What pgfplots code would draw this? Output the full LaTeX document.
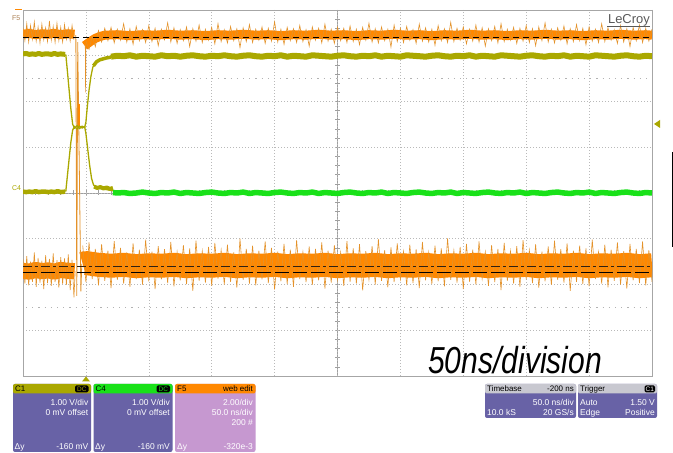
\documentclass[border=0pt]{standalone}
\usepackage{pgfplots}
\usepackage{pgfplotstable}
\pgfplotsset{compat=1.18}
\usepackage{fontspec}
\setmainfont{Liberation Sans}
\usepackage{graphicx}
\definecolor{olv}{RGB}{170,168,0}
\definecolor{grn}{RGB}{25,225,25}
\definecolor{org}{RGB}{255,136,0}
\definecolor{orgd}{RGB}{228,146,42}
\definecolor{pnl}{RGB}{104,98,166}
\definecolor{pnlF}{RGB}{198,152,208}
\definecolor{hdr}{RGB}{200,200,208}

\pgfplotstableread{
x y
1.00 7.32
1.05 7.14
1.10 7.42
1.15 7.20
1.20 7.55
1.25 7.30
1.30 7.60
1.35 7.33
1.40 7.62
1.45 7.28
1.50 7.58
1.55 7.34
1.60 7.70
1.65 7.30
1.70 7.59
1.75 7.25
1.80 7.64
1.85 7.33
1.90 7.57
1.95 7.29
2.00 7.66
2.05 7.31
2.10 7.60
2.15 7.22
2.20 7.58
2.25 7.35
2.30 7.72
2.35 7.30
2.40 7.61
2.45 7.27
2.50 7.57
2.55 7.33
2.60 7.63
2.65 7.20
2.70 7.59
2.75 7.32
2.80 7.67
2.85 7.29
2.90 7.58
2.95 7.34
3.00 7.62
3.05 7.26
3.10 7.70
3.15 7.31
3.20 7.57
3.25 7.28
3.30 7.64
3.35 7.33
3.40 7.59
3.45 7.18
3.50 7.61
3.55 7.31
3.60 7.68
3.65 7.29
3.70 7.58
3.75 7.34
3.80 7.63
3.85 7.27
3.90 7.60
3.95 7.32
4.00 7.74
4.05 7.30
4.10 7.58
4.15 7.25
4.20 7.62
4.25 7.33
4.30 7.59
4.35 7.29
4.40 7.66
4.45 7.31
4.50 7.57
4.55 7.21
4.60 7.63
4.65 7.34
4.70 7.60
4.75 7.28
4.80 7.69
4.85 7.32
4.90 7.58
4.95 7.27
5.00 7.62
5.05 7.33
5.10 7.60
5.15 7.29
5.20 7.65
5.25 7.31
5.30 7.58
5.35 7.24
5.40 7.62
5.45 7.34
5.50 7.71
5.55 7.30
5.60 7.59
5.65 7.28
5.70 7.63
5.75 7.33
5.80 7.58
5.85 7.19
5.90 7.67
5.95 7.31
6.00 7.60
6.05 7.29
6.10 7.64
6.15 7.34
6.20 7.57
6.25 7.27
6.30 7.69
6.35 7.32
6.40 7.61
6.45 7.30
6.50 7.58
6.55 7.23
6.60 7.66
6.65 7.33
6.70 7.59
6.75 7.29
6.80 7.73
6.85 7.31
6.90 7.60
6.95 7.34
7.00 7.63
7.05 7.26
7.10 7.58
7.15 7.32
7.20 7.67
7.25 7.30
7.30 7.61
7.35 7.21
7.40 7.59
7.45 7.33
7.50 7.64
7.55 7.28
7.60 7.70
7.65 7.31
7.70 7.58
7.75 7.34
7.80 7.62
7.85 7.27
7.90 7.60
7.95 7.32
8.00 7.66
8.05 7.29
8.10 7.59
8.15 7.22
8.20 7.63
8.25 7.33
8.30 7.72
8.35 7.30
8.40 7.58
8.45 7.28
8.50 7.61
8.55 7.34
8.60 7.65
8.65 7.26
8.70 7.59
8.75 7.31
8.80 7.68
8.85 7.33
8.90 7.60
8.95 7.24
9.00 7.63
9.05 7.32
9.10 7.58
9.15 7.29
9.20 7.70
9.25 7.31
9.30 7.61
9.35 7.34
9.40 7.57
9.45 7.27
9.50 7.66
9.55 7.30
9.60 7.59
9.65 7.20
9.70 7.62
9.75 7.33
9.80 7.67
9.85 7.29
9.90 7.60
9.95 7.32
10.00 7.58
}\orgTopSpk

\pgfplotstableread{
x y
0.95 2.85
1.00 2.05
1.05 2.92
1.10 2.12
1.15 2.78
1.20 1.98
1.25 2.88
1.30 2.08
1.35 2.74
1.40 1.92
1.45 2.95
1.50 2.10
1.55 2.80
1.60 2.02
1.65 2.70
1.70 1.95
1.75 2.90
1.80 2.12
1.85 2.76
1.90 2.00
1.95 2.98
2.00 2.07
2.05 2.72
2.10 1.90
2.15 2.84
2.20 2.11
2.25 2.77
2.30 2.03
2.35 2.93
2.40 1.96
2.45 2.71
2.50 2.09
2.55 2.86
2.60 2.01
2.65 2.79
2.70 1.86
2.75 2.96
2.80 2.08
2.85 2.73
2.90 2.04
2.95 2.82
3.00 1.97
3.05 2.91
3.10 2.13
3.15 2.75
3.20 2.00
3.25 2.87
3.30 2.06
3.35 2.70
3.40 1.93
3.45 3.00
3.50 2.10
3.55 2.78
3.60 2.02
3.65 2.85
3.70 1.98
3.75 2.74
3.80 2.11
3.85 2.94
3.90 2.03
3.95 2.80
4.00 1.89
4.05 2.72
4.10 2.07
4.15 2.89
4.20 2.01
4.25 2.76
4.30 1.95
4.35 2.97
4.40 2.12
4.45 2.71
4.50 2.05
4.55 2.83
4.60 1.99
4.65 2.78
4.70 2.09
4.75 2.92
4.80 1.91
4.85 2.74
4.90 2.04
4.95 2.86
5.00 2.10
5.05 2.70
5.10 1.97
5.15 2.95
5.20 2.06
5.25 2.79
5.30 2.02
5.35 2.88
5.40 1.87
5.45 2.73
5.50 2.11
5.55 2.84
5.60 2.00
5.65 2.99
5.70 2.08
5.75 2.75
5.80 1.94
5.85 2.81
5.90 2.05
5.95 2.90
6.00 2.12
6.05 2.72
6.10 1.98
6.15 2.87
6.20 2.03
6.25 2.77
6.30 1.92
6.35 2.93
6.40 2.09
6.45 2.70
6.50 2.01
6.55 2.85
6.60 2.07
6.65 2.79
6.70 1.96
6.75 3.01
6.80 2.10
6.85 2.74
6.90 2.04
6.95 2.82
7.00 1.90
7.05 2.89
7.10 2.06
7.15 2.76
7.20 2.00
7.25 2.94
7.30 2.13
7.35 2.71
7.40 1.97
7.45 2.86
7.50 2.05
7.55 2.78
7.60 1.88
7.65 2.91
7.70 2.08
7.75 2.73
7.80 2.02
7.85 2.84
7.90 1.95
7.95 2.97
8.00 2.11
8.05 2.75
8.10 2.03
8.15 2.88
8.20 1.93
8.25 2.72
8.30 2.07
8.35 2.83
8.40 1.99
8.45 2.96
8.50 2.10
8.55 2.77
8.60 2.04
8.65 2.90
8.70 1.86
8.75 2.74
8.80 2.06
8.85 2.85
8.90 2.01
8.95 2.79
9.00 1.96
9.05 2.98
9.10 2.12
9.15 2.71
9.20 2.02
9.25 2.87
9.30 1.94
9.35 2.76
9.40 2.08
9.45 2.92
9.50 2.00
9.55 2.73
9.60 1.91
9.65 2.89
9.70 2.09
9.75 2.78
9.80 2.03
9.85 2.94
9.90 1.98
9.95 2.75
10.00 2.06
}\orgBotSpk

\pgfplotstableread{
x y
1.4 6.98
1.5 7.00
1.6 6.99
1.7 7.01
1.8 6.98
1.9 7.00
2.0 6.99
2.1 6.98
2.2 7.01
2.3 6.99
2.4 7.00
2.5 6.98
2.6 7.00
2.7 7.01
2.8 6.99
2.9 6.98
3.0 7.00
3.1 6.99
3.2 7.01
3.3 6.99
3.4 6.98
3.5 7.00
3.6 7.01
3.7 6.99
3.8 6.98
3.9 7.00
4.0 6.99
4.1 7.01
4.2 6.98
4.3 7.00
4.4 6.99
4.5 6.98
4.6 7.01
4.7 7.00
4.8 6.99
4.9 6.98
5.0 7.00
5.1 7.01
5.2 6.99
5.3 6.98
5.4 7.00
5.5 6.99
5.6 7.01
5.7 6.98
5.8 7.00
5.9 6.99
6.0 6.98
6.1 7.01
6.2 7.00
6.3 6.99
6.4 6.98
6.5 7.00
6.6 7.01
6.7 6.99
6.8 6.98
6.9 7.00
7.0 6.99
7.1 7.01
7.2 6.98
7.3 7.00
7.4 6.99
7.5 6.98
7.6 7.01
7.7 7.00
7.8 6.99
7.9 6.98
8.0 7.00
8.1 7.01
8.2 6.99
8.3 6.98
8.4 7.00
8.5 6.99
8.6 7.01
8.7 6.98
8.8 7.00
8.9 6.99
9.0 6.98
9.1 7.01
9.2 7.00
9.3 6.99
9.4 6.98
9.5 7.00
9.6 7.01
9.7 6.99
9.8 6.98
9.9 7.00
10.0 6.99
}\olvTop

\pgfplotstableread{
x y
1.43 4.01
1.5 4.00
1.6 4.01
1.7 3.99
1.8 4.00
1.9 4.02
2.0 4.00
2.1 3.99
2.2 4.01
2.3 4.00
2.4 4.02
2.5 3.99
2.6 4.01
2.7 4.00
2.8 3.99
2.9 4.01
3.0 4.02
3.1 4.00
3.2 3.99
3.3 4.01
3.4 4.00
3.5 4.02
3.6 3.99
3.7 4.01
3.8 4.00
3.9 3.99
4.0 4.01
4.1 4.02
4.2 4.00
4.3 3.99
4.4 4.01
4.5 4.00
4.6 4.02
4.7 3.99
4.8 4.01
4.9 4.00
5.0 3.99
5.1 4.01
5.2 4.02
5.3 4.00
5.4 3.99
5.5 4.01
5.6 4.00
5.7 4.02
5.8 3.99
5.9 4.01
6.0 4.00
6.1 3.99
6.2 4.01
6.3 4.02
6.4 4.00
6.5 3.99
6.6 4.01
6.7 4.00
6.8 4.02
6.9 3.99
7.0 4.01
7.1 4.00
7.2 3.99
7.3 4.01
7.4 4.02
7.5 4.00
7.6 3.99
7.7 4.01
7.8 4.00
7.9 4.02
8.0 3.99
8.1 4.01
8.2 4.00
8.3 3.99
8.4 4.01
8.5 4.02
8.6 4.00
8.7 3.99
8.8 4.01
8.9 4.00
9.0 4.02
9.1 3.99
9.2 4.01
9.3 4.00
9.4 3.99
9.5 4.01
9.6 4.02
9.7 4.00
9.8 3.99
9.9 4.01
10.0 4.00
}\grnBot

\begin{document}
\begin{tikzpicture}
\useasboundingbox (0,0) rectangle (673bp,453bp);
\fill[white] (0,0) rectangle (673bp,453bp);
% graticule centre lines and faint rows (pixel coordinates, origin top-left)
\begin{scope}[x=1bp,y=-1bp,yshift=453bp]
  \draw[gray!60, line width=0.7bp, dash pattern=on 1.2bp off 5bp] (26,78.6) -- (652,78.6);
  \draw[gray!60, line width=0.7bp, dash pattern=on 1.2bp off 5bp] (26,307.4) -- (652,307.4);
  \draw[gray!75, line width=0.7bp] (337.5,10) -- (337.5,376);
  \draw[gray!75, line width=0.7bp] (23,193) -- (652,193);
  \foreach \i in {1,...,39} \draw[gray!75, line width=0.6bp] (335,10+\i*9.15) -- (340,10+\i*9.15);
  \foreach \i in {1,...,49} \draw[gray!75, line width=0.6bp] (23+\i*12.58,190.5) -- (23+\i*12.58,195.5);
\end{scope}

\begin{axis}[
  at={(23bp,77bp)}, anchor=south west,
  scale only axis, width=629bp, height=366bp,
  xmin=0, xmax=10, ymin=0, ymax=8,
  xtick={0,1,...,10}, ytick={0,1,...,8},
  xticklabel=\empty, yticklabel=\empty,
  major tick length=0pt,
  grid=major,
  major grid style={gray!55, line width=0.6bp, dash pattern=on 1bp off 2bp},
  axis line style={gray!70, line width=0.7bp},
  clip=true,
]
% ---- F5 orange, top band ----
\addplot[org, line width=9bp, line join=round] coordinates {(0,7.47)(0.1,7.49)(0.2,7.46)(0.3,7.48)(0.4,7.47)(0.5,7.49)(0.6,7.46)(0.7,7.48)(0.82,7.47)};
\addplot[orgd, line width=0.6bp] coordinates {(0.00,7.62)(0.03,7.33)(0.06,7.70)(0.09,7.30)(0.12,7.66)(0.15,7.36)(0.18,7.74)(0.21,7.32)(0.24,7.63)(0.27,7.28)(0.30,7.69)(0.33,7.35)(0.36,7.61)(0.39,7.31)(0.42,7.76)(0.45,7.34)(0.48,7.64)(0.51,7.29)(0.54,7.71)(0.57,7.33)(0.60,7.62)(0.63,7.30)(0.66,7.68)(0.69,7.36)(0.72,7.60)(0.75,7.32)(0.78,7.66)(0.81,7.35)};
\addplot[org, line width=9bp, line join=round] coordinates {(0.98,7.22)(1.02,7.26)(1.08,7.32)(1.15,7.38)(1.22,7.42)(1.3,7.45)(1.5,7.46)(1.7,7.44)(1.9,7.46)(2.1,7.45)(2.3,7.47)(2.5,7.45)(2.7,7.46)(2.9,7.44)(3.1,7.46)(3.3,7.45)(3.5,7.47)(3.7,7.45)(3.9,7.46)(4.1,7.44)(4.3,7.46)(4.5,7.45)(4.7,7.47)(4.9,7.45)(5.1,7.46)(5.3,7.44)(5.5,7.46)(5.7,7.45)(5.9,7.47)(6.1,7.45)(6.3,7.46)(6.5,7.44)(6.7,7.46)(6.9,7.45)(7.1,7.47)(7.3,7.45)(7.5,7.46)(7.7,7.44)(7.9,7.46)(8.1,7.45)(8.3,7.47)(8.5,7.45)(8.7,7.46)(8.9,7.44)(9.1,7.46)(9.3,7.45)(9.5,7.47)(9.7,7.45)(9.9,7.46)(10,7.45)};
\addplot[orgd, line width=0.6bp] table[x=x,y=y] {\orgTopSpk};
% ---- F5 orange, bottom band ----
\addplot[org, line width=16bp, line join=round] coordinates {(0,2.30)(0.1,2.28)(0.2,2.32)(0.3,2.29)(0.4,2.31)(0.5,2.28)(0.6,2.32)(0.7,2.30)(0.82,2.29)};
\addplot[orgd, line width=0.6bp] coordinates {(0.00,2.55)(0.03,2.02)(0.06,2.62)(0.09,1.98)(0.12,2.50)(0.15,2.06)(0.18,2.70)(0.21,1.95)(0.24,2.58)(0.27,2.04)(0.30,2.52)(0.33,1.90)(0.36,2.64)(0.39,2.03)(0.42,2.56)(0.45,1.97)(0.48,2.68)(0.51,2.05)(0.54,2.53)(0.57,1.93)(0.60,2.60)(0.63,2.01)(0.66,2.57)(0.69,1.99)(0.72,2.66)(0.75,1.88)(0.78,2.54)(0.81,1.72)(0.83,2.30)};
\addplot[org, line width=24bp, line join=round] coordinates {(0.95,2.45)(1.0,2.47)(1.2,2.43)(1.4,2.41)(1.6,2.43)(1.8,2.40)(2.0,2.42)(2.2,2.41)(2.4,2.43)(2.6,2.40)(2.8,2.42)(3.0,2.41)(3.2,2.43)(3.4,2.40)(3.6,2.42)(3.8,2.41)(4.0,2.43)(4.2,2.40)(4.4,2.42)(4.6,2.41)(4.8,2.43)(5.0,2.40)(5.2,2.42)(5.4,2.41)(5.6,2.43)(5.8,2.40)(6.0,2.42)(6.2,2.41)(6.4,2.43)(6.6,2.40)(6.8,2.42)(7.0,2.41)(7.2,2.43)(7.4,2.40)(7.6,2.42)(7.8,2.41)(8.0,2.43)(8.2,2.40)(8.4,2.42)(8.6,2.41)(8.8,2.43)(9.0,2.40)(9.2,2.42)(9.4,2.41)(9.6,2.43)(9.8,2.40)(10,2.42)};
\addplot[orgd, line width=0.6bp] table[x=x,y=y] {\orgBotSpk};
% ---- F5 transition spikes ----
\addplot[orgd, line width=0.8bp] coordinates {(0.84,7.45)(0.855,1.75)(0.87,7.30)(0.92,1.85)(0.935,2.45)};
\addplot[org, line width=2.5bp] coordinates {(0.89,5.45)(0.89,5.95)};
\addplot[orgd, line width=0.6bp] coordinates {(0.99,7.25)(0.995,6.2)(1.0,7.2)};
% ---- reference dashed lines ----
\addplot[black, line width=1.1bp, dash pattern=on 6bp off 4bp] coordinates {(0,7.39)(10,7.39)};
\addplot[black!75!brown, line width=1.0bp, dash pattern=on 9bp off 3bp on 3bp off 3bp] coordinates {(0,2.40)(10,2.40)};
\addplot[black, line width=1.1bp, dash pattern=on 14bp off 4bp] coordinates {(0,2.27)(10,2.27)};
% ---- C1 / C4 ----
\addplot[olv, line width=5bp, line join=round] coordinates {(0,7.04)(0.05,7.05)(0.1,7.03)(0.15,7.04)(0.2,7.03)(0.25,7.05)(0.3,7.03)(0.35,7.04)(0.4,7.04)(0.45,7.03)(0.5,7.05)(0.55,7.03)(0.6,7.04)(0.67,7.03)};
\addplot[olv, line width=4.5bp, line join=round] coordinates {(0,4.03)(0.05,4.02)(0.1,4.03)(0.15,4.02)(0.2,4.04)(0.25,4.02)(0.3,4.03)(0.35,4.03)(0.4,4.02)(0.45,4.03)(0.5,4.02)(0.55,4.04)(0.6,4.02)(0.67,4.03)};
\addplot[olv, line width=1.3bp] coordinates {(0.68,7.03)(0.70,6.75)(0.73,6.30)(0.76,5.85)(0.79,5.50)(0.82,5.42)(0.86,5.47)(0.90,5.41)(0.94,5.46)(0.98,5.43)(1.00,5.55)(1.02,5.85)(1.05,6.25)(1.08,6.55)(1.11,6.75)(1.15,6.85)(1.20,6.90)(1.30,6.94)(1.40,6.97)};
\addplot[olv, line width=1.3bp] coordinates {(0.68,4.03)(0.70,4.30)(0.73,4.70)(0.76,5.10)(0.79,5.38)(0.82,5.45)(0.86,5.40)(0.90,5.46)(0.94,5.42)(0.98,5.45)(1.00,5.30)(1.03,4.95)(1.06,4.60)(1.09,4.32)(1.12,4.18)(1.16,4.12)(1.22,4.10)(1.30,4.08)(1.43,4.05)};
\addplot[olv, line width=3.5bp, line join=round] coordinates {(1.12,6.78)(1.17,6.87)(1.22,6.91)(1.27,6.93)(1.32,6.95)(1.40,6.97)};
\addplot[olv, line width=4bp, line join=round] coordinates {(1.13,4.14)(1.18,4.11)(1.23,4.13)(1.28,4.10)(1.33,4.12)(1.38,4.09)(1.43,4.11)};
\addplot[olv, line width=6bp, line join=round] table[x=x,y=y] {\olvTop};
\addplot[grn, line width=5.5bp, line join=round] table[x=x,y=y] {\grnBot};
\end{axis}

% ---- annotations (pixel coordinates, origin top-left) ----
\begin{scope}[x=1bp,y=-1bp,yshift=453bp]
  % left labels
  \draw[org, line width=1.5bp] (15,9.5) -- (22,9.5);
  \node[anchor=base west, inner sep=0, text=brown!70!gray, font=\fontsize{7}{7}\selectfont] at (12,20.5) {F5};
  \node[anchor=base west, inner sep=0, text=olv, font=\fontsize{7}{7}\selectfont] at (12,190.5) {C4};
  % LeCroy
  \node[anchor=base east, inner sep=0, text=black!65, font=\fontsize{13}{13}\selectfont] at (650,23.5) {LeCroy};
  \draw[black!65, line width=0.8bp] (607,26.3) -- (650,26.3);
  % markers
  \fill[olv] (654,124) -- (660,120) -- (660,128) -- cycle;
  \fill[olv] (86,376.5) -- (82,381.5) -- (90,381.5) -- cycle;
  \draw[black, line width=1.3bp] (672.3,152) -- (672.3,247);
  % big text
  \node[anchor=base west, inner sep=0] at (428,374) {\scalebox{0.8}[1]{\fontsize{37.7}{40}\selectfont\itshape 50ns/division}};

  % C1 panel
  \fill[pnl, rounded corners=2bp] (13,384) rectangle (91,452);
  \fill[olv, rounded corners=2bp] (13,384) rectangle (91,393.5);
  \fill[black, rounded corners=1.5bp] (75,385.5) rectangle (88.5,392.5);
  \node[anchor=base west, inner sep=0, font=\fontsize{8}{8}\selectfont] at (15,391.5) {C1};
  \node[anchor=base, inner sep=0, text=olv, font=\fontsize{6.5}{6.5}\selectfont] at (81.8,391.3) {DC};
  \begin{scope}[every node/.style={inner sep=0, text=white, font=\fontsize{8.5}{8.5}\selectfont}]
    \node[anchor=base east] at (88.5,406) {1.00 V/div};
    \node[anchor=base east] at (88.5,416) {0 mV offset};
    \node[anchor=base west] at (14.5,450) {Δy};
    \node[anchor=base east] at (88.5,450) {-160 mV};
  \end{scope}
  % C4 panel
  \fill[pnl, rounded corners=2bp] (93.5,384) rectangle (172.5,452);
  \fill[grn, rounded corners=2bp] (93.5,384) rectangle (172.5,393.5);
  \fill[black, rounded corners=1.5bp] (156.5,385.5) rectangle (170,392.5);
  \node[anchor=base west, inner sep=0, font=\fontsize{8}{8}\selectfont] at (95.5,391.5) {C4};
  \node[anchor=base, inner sep=0, text=grn, font=\fontsize{6.5}{6.5}\selectfont] at (163.3,391.3) {DC};
  \begin{scope}[every node/.style={inner sep=0, text=white, font=\fontsize{8.5}{8.5}\selectfont}]
    \node[anchor=base east] at (170,406) {1.00 V/div};
    \node[anchor=base east] at (170,416) {0 mV offset};
    \node[anchor=base west] at (95,450) {Δy};
    \node[anchor=base east] at (170,450) {-160 mV};
  \end{scope}
  % F5 panel
  \fill[pnlF, rounded corners=2bp] (175,384) rectangle (255.5,452);
  \fill[org, rounded corners=2bp] (175,384) rectangle (255.5,393.5);
  \node[anchor=base west, inner sep=0, font=\fontsize{8}{8}\selectfont] at (177,391.5) {F5};
  \node[anchor=base east, inner sep=0, font=\fontsize{8}{8}\selectfont] at (253,391.5) {web edit};
  \begin{scope}[every node/.style={inner sep=0, text=white, font=\fontsize{8.5}{8.5}\selectfont}]
    \node[anchor=base east] at (253,406) {2.00/div};
    \node[anchor=base east] at (253,416) {50.0 ns/div};
    \node[anchor=base east] at (253,426) {200 \#};
    \node[anchor=base west] at (177,450) {Δy};
    \node[anchor=base east] at (253,450) {-320e-3};
  \end{scope}
  % Timebase panel
  \fill[pnl, rounded corners=2bp] (485,384) rectangle (576,418);
  \fill[hdr, rounded corners=2bp] (485,384) rectangle (576,393.5);
  \node[anchor=base west, inner sep=0, font=\fontsize{8}{8}\selectfont] at (487,391.5) {Timebase};
  \node[anchor=base east, inner sep=0, font=\fontsize{8}{8}\selectfont] at (574,391.5) {-200 ns};
  \begin{scope}[every node/.style={inner sep=0, text=white, font=\fontsize{8.5}{8.5}\selectfont}]
    \node[anchor=base east] at (574,406) {50.0 ns/div};
    \node[anchor=base west] at (487,416) {10.0 kS};
    \node[anchor=base east] at (574,416) {20 GS/s};
  \end{scope}
  % Trigger panel
  \fill[pnl, rounded corners=2bp] (578,384) rectangle (657,418);
  \fill[hdr, rounded corners=2bp] (578,384) rectangle (657,393.5);
  \fill[black, rounded corners=1.5bp] (644.5,385.5) rectangle (655,392.5);
  \node[anchor=base west, inner sep=0, font=\fontsize{8}{8}\selectfont] at (580,391.5) {Trigger};
  \node[anchor=base, inner sep=0, text=white, font=\fontsize{6.5}{6.5}\selectfont] at (649.8,391.3) {C1};
  \begin{scope}[every node/.style={inner sep=0, text=white, font=\fontsize{8.5}{8.5}\selectfont}]
    \node[anchor=base west] at (580,406) {Auto};
    \node[anchor=base east] at (655,406) {1.50 V};
    \node[anchor=base west] at (580,416) {Edge};
    \node[anchor=base east] at (655,416) {Positive};
  \end{scope}
\end{scope}
\end{tikzpicture}
\end{document}
